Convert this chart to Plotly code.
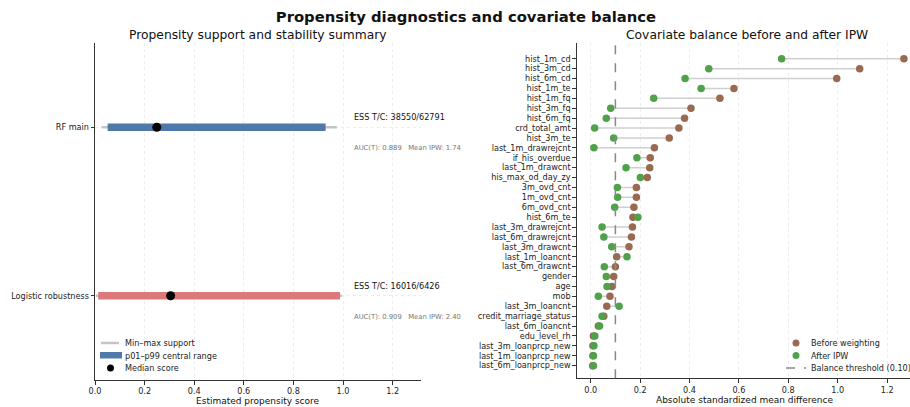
import plotly.graph_objects as go

# ---------------- Left panel data ----------------
models = ["RF main", "Logistic robustness"]
support_min = [0.027, 0.004]
support_max = [0.975, 0.996]
p01 = [0.051, 0.013]
p99 = [0.930, 0.988]
median_score = [0.249, 0.305]
ess_text = ["ESS T/C: 38550/62791", "ESS T/C: 16016/6426"]
auc_text = ["AUC(T): 0.889   Mean IPW: 1.74", "AUC(T): 0.909   Mean IPW: 2.40"]
bar_colors = ["#5079ab", "#dd787b"]

# ---------------- Right panel data ----------------
covariates = [
    "hist_1m_cd", "hist_3m_cd", "hist_6m_cd", "hist_1m_te", "hist_1m_fq",
    "hist_3m_fq", "hist_6m_fq", "crd_total_amt", "hist_3m_te", "last_1m_drawrejcnt",
    "if_his_overdue", "last_1m_drawcnt", "his_max_od_day_zy", "3m_ovd_cnt", "1m_ovd_cnt",
    "6m_ovd_cnt", "hist_6m_te", "last_3m_drawrejcnt", "last_6m_drawrejcnt", "last_3m_drawcnt",
    "last_1m_loancnt", "last_6m_drawcnt", "gender", "age", "mob",
    "last_3m_loancnt", "credit_marriage_status", "last_6m_loancnt", "edu_level_rh",
    "last_3m_loanprcp_new", "last_1m_loanprcp_new", "last_6m_loanprcp_new",
]
smd_before = [
    1.268, 1.089, 0.996, 0.580, 0.523,
    0.406, 0.380, 0.357, 0.318, 0.258,
    0.241, 0.239, 0.229, 0.185, 0.185,
    0.175, 0.171, 0.169, 0.165, 0.155,
    0.105, 0.100, 0.093, 0.086, 0.078,
    0.065, 0.053, 0.031, 0.011,
    0.009, 0.009, 0.008,
]
smd_after = [
    0.773, 0.478, 0.382, 0.447, 0.255,
    0.081, 0.063, 0.016, 0.093, 0.013,
    0.187, 0.143, 0.201, 0.108, 0.109,
    0.097, 0.191, 0.046, 0.053, 0.085,
    0.147, 0.055, 0.063, 0.066, 0.031,
    0.115, 0.046, 0.036, 0.017,
    0.013, 0.011, 0.011,
]
threshold = 0.10

FONT = "DejaVu Sans"
BROWN, GREEN, GRAYLINE = "#9a6a50", "#4fa24a", "#c4c4c4"
W, H = 910, 407
def px(v): return v / W
def py(v): return (H - v) / H

fig = go.Figure()

# ---- left panel traces ----
for i, m in enumerate(models):
    fig.add_trace(go.Scatter(
        x=[support_min[i], support_max[i]], y=[i, i], mode="lines",
        line=dict(color=GRAYLINE, width=2.5), xaxis="x", yaxis="y",
        name="Min–max support", showlegend=False, hoverinfo="skip"))
for i, m in enumerate(models):
    fig.add_trace(go.Scatter(
        x=[p01[i], p99[i]], y=[i, i], mode="lines",
        line=dict(color=bar_colors[i], width=7.5), xaxis="x", yaxis="y",
        name="p01–p99 central range", showlegend=False, hoverinfo="skip"))
fig.add_trace(go.Scatter(
    x=median_score, y=list(range(len(models))), mode="markers",
    marker=dict(color="black", size=9), xaxis="x", yaxis="y",
    name="Median score", showlegend=False))

for i in range(len(models)):
    fig.add_annotation(x=1.036, y=i - 0.06, xref="x", yref="y", text=ess_text[i],
                       showarrow=False, xanchor="left", yanchor="middle",
                       font=dict(family=FONT, size=8.1, color="#111"))
    fig.add_annotation(x=1.036, y=i + 0.125, xref="x", yref="y", text=auc_text[i],
                       showarrow=False, xanchor="left", yanchor="middle",
                       font=dict(family=FONT, size=6.8, color="#777"))

# ---- right panel traces ----
ys = list(range(len(covariates)))
cx, cy = [], []
for i in ys:
    cx += [smd_before[i], smd_after[i], None]
    cy += [i, i, None]
fig.add_trace(go.Scatter(x=cx, y=cy, mode="lines", line=dict(color="#cfcfcf", width=1.5),
                         xaxis="x2", yaxis="y2", showlegend=False, hoverinfo="skip"))
fig.add_trace(go.Scatter(x=smd_before, y=ys, mode="markers",
                         marker=dict(color=BROWN, size=7.5),
                         xaxis="x2", yaxis="y2", name="Before weighting", showlegend=False))
fig.add_trace(go.Scatter(x=smd_after, y=ys, mode="markers",
                         marker=dict(color=GREEN, size=7.5),
                         xaxis="x2", yaxis="y2", name="After IPW", showlegend=False))
fig.add_shape(type="line", xref="x2", yref="y2 domain", x0=threshold, x1=threshold, y0=0, y1=1,
              line=dict(color="#888", width=1.5, dash="dash"))

# ---- legends (drawn in paper coordinates) ----
def leg_text(x, y, t):
    fig.add_annotation(x=px(x), y=py(y), xref="paper", yref="paper", text=t, showarrow=False,
                       xanchor="left", yanchor="middle", font=dict(family=FONT, size=8.1, color="#222"))

# left legend
fig.add_shape(type="line", xref="paper", yref="paper", x0=px(101), x1=px(119), y0=py(343), y1=py(343),
              line=dict(color=GRAYLINE, width=2.5))
fig.add_shape(type="rect", xref="paper", yref="paper", x0=px(100), x1=px(122), y0=py(352), y1=py(358.5),
              line=dict(width=0), fillcolor=bar_colors[0])
fig.add_shape(type="circle", xref="paper", yref="paper", x0=px(107), x1=px(114), y0=py(364.5), y1=py(371.5),
              line=dict(width=0), fillcolor="black")
leg_text(123, 343, "Min–max support")
leg_text(123, 355.5, "p01–p99 central range")
leg_text(123, 368, "Median score")

# right legend
fig.add_shape(type="circle", xref="paper", yref="paper", x0=px(792.5), x1=px(799.5), y0=py(339.5), y1=py(346.5),
              line=dict(width=0), fillcolor=BROWN)
fig.add_shape(type="circle", xref="paper", yref="paper", x0=px(792.5), x1=px(799.5), y0=py(352), y1=py(359),
              line=dict(width=0), fillcolor=GREEN)
fig.add_shape(type="line", xref="paper", yref="paper", x0=px(786), x1=px(806), y0=py(368), y1=py(368),
              line=dict(color="#888", width=1.5, dash="dash"))
leg_text(809, 343, "Before weighting")
leg_text(809, 355.5, "After IPW")
leg_text(809, 368, "Balance threshold (0.10)")

axis_common = dict(showline=True, linecolor="#333", linewidth=1, ticks="outside",
                   ticklen=3.5, tickcolor="#333", tickfont=dict(family=FONT, size=8.1, color="#222"),
                   zeroline=False, automargin=False)
xt = [0, 0.2, 0.4, 0.6, 0.8, 1.0, 1.2]
xtt = ["0.0", "0.2", "0.4", "0.6", "0.8", "1.0", "1.2"]

fig.update_layout(
    template="none",
    width=W, height=H, margin=dict(l=0, r=0, t=0, b=0, autoexpand=False),
    plot_bgcolor="white", paper_bgcolor="white", showlegend=False,
    font=dict(family=FONT, color="#222"),
    title=dict(text="<b>Propensity diagnostics and covariate balance</b>", x=0.512, xanchor="center",
               y=py(16.5), yanchor="middle", font=dict(family=FONT, size=14.8, color="#111")),
    xaxis=dict(domain=[px(95), px(421)], range=[0, 1.3145], anchor="y",
               tickvals=xt, ticktext=xtt,
               showgrid=True, gridcolor="#ececec", griddash="dot", gridwidth=1,
               **axis_common),
    yaxis=dict(domain=[py(380), py(43)], range=[1.5, -0.5], anchor="x",
               tickvals=[0, 1], ticktext=models,
               showgrid=True, gridcolor="#ececec", griddash="dot", gridwidth=1,
               **axis_common),
    xaxis2=dict(domain=[px(576.7), 1.0], range=[-0.0567, 1.2927], anchor="y2",
                tickvals=xt, ticktext=xtt,
                showgrid=True, gridcolor="#ececec", griddash="dot", gridwidth=1,
                **axis_common),
    yaxis2=dict(domain=[py(378.3), py(43)], range=[32.28, -1.59], anchor="x2",
                tickvals=ys, ticktext=covariates, showgrid=False,
                **axis_common),
)

for txt, xc, yc, sz in [
    ("Propensity support and stability summary", 258, 35, 12.3),
    ("Covariate balance before and after IPW", 747, 35, 12.3),
    ("Estimated propensity score", 258, 401, 9),
    ("Absolute standardized mean difference", 744, 400, 9),
]:
    fig.add_annotation(text=txt, x=px(xc), y=py(yc), xref="paper", yref="paper", showarrow=False,
                       xanchor="center", yanchor="middle", font=dict(family=FONT, size=sz, color="#111"))

fig.write_html("out.html", config={"displayModeBar": False},
               post_script="document.body.style.margin='0';document.body.style.padding='0';document.body.style.overflow='hidden';")
